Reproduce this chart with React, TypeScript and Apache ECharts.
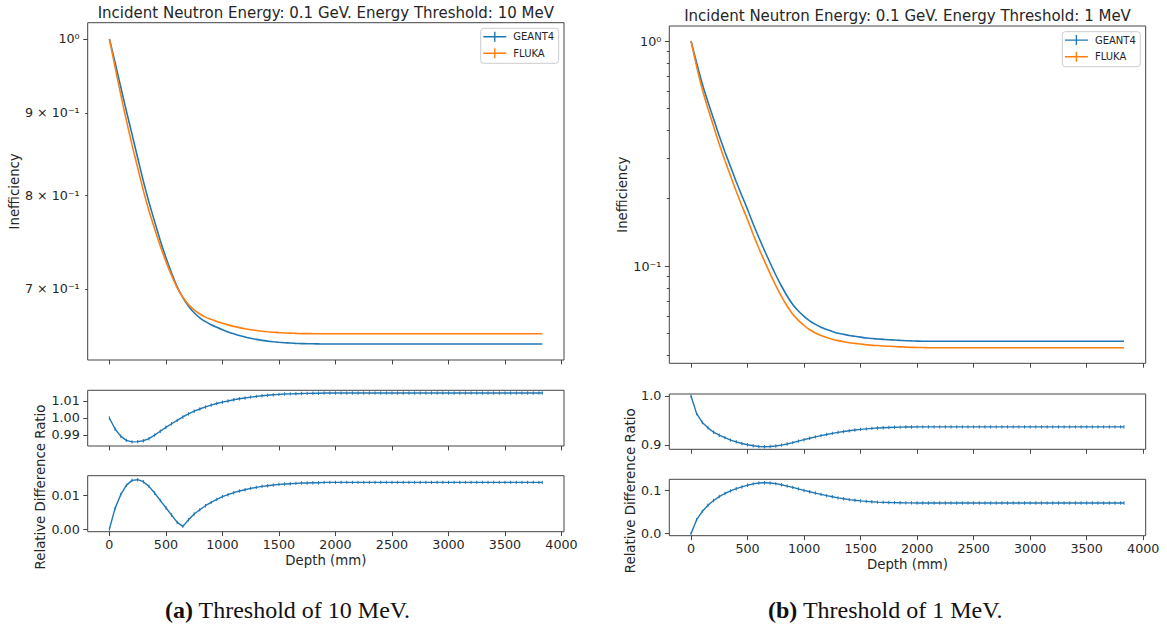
import React, { useEffect, useRef } from 'react';
import * as echarts from 'echarts';

// ---------- data ----------
const depth = [
  0, 50, 100, 150, 200, 250, 300, 350, 400, 450, 500, 550, 600, 650, 700, 750, 800, 850, 900, 950,
  1000, 1050, 1100, 1150, 1200, 1250, 1300, 1350, 1400, 1450, 1500, 1550, 1600, 1650, 1700, 1750, 1800, 1850, 1900, 1950,
  2000, 2050, 2100, 2150, 2200, 2250, 2300, 2350, 2400, 2450, 2500, 2550, 2600, 2650, 2700, 2750, 2800, 2850, 2900, 2950,
  3000, 3050, 3100, 3150, 3200, 3250, 3300, 3350, 3400, 3450, 3500, 3550, 3600, 3650, 3700, 3750, 3800, 3830,
];

// Threshold 10 MeV
const geant10 = [
  1.0, 0.967, 0.934, 0.9025, 0.873, 0.844, 0.8165, 0.7922, 0.7705, 0.75, 0.732, 0.716, 0.702, 0.6912, 0.6828, 0.6765, 0.6717, 0.668, 0.6651, 0.6626,
  0.6603, 0.6583, 0.6565, 0.6549, 0.6535, 0.6523, 0.6513, 0.6504, 0.6497, 0.6491, 0.6486, 0.6482, 0.6479, 0.6476, 0.6474, 0.6473, 0.6472, 0.6471, 0.647, 0.647,
  0.647, 0.647, 0.647, 0.647, 0.647, 0.647, 0.647, 0.647, 0.647, 0.647, 0.647, 0.647, 0.647, 0.647, 0.647, 0.647, 0.647, 0.647, 0.647, 0.647,
  0.647, 0.647, 0.647, 0.647, 0.647, 0.647, 0.647, 0.647, 0.647, 0.647, 0.647, 0.647, 0.647, 0.647, 0.647, 0.647, 0.647, 0.647,
];
const fluka10 = [
  1.0, 0.9607, 0.924, 0.8906, 0.8597, 0.8322, 0.8056, 0.7825, 0.7627, 0.7442, 0.728, 0.7136, 0.701, 0.6916, 0.6844, 0.6792, 0.6753, 0.6723, 0.6702, 0.6682,
  0.6664, 0.6649, 0.6635, 0.6623, 0.6612, 0.6603, 0.6596, 0.6589, 0.6584, 0.658, 0.6576, 0.6573, 0.6571, 0.6569, 0.6567, 0.6567, 0.6566, 0.6566, 0.6565, 0.6565,
  0.6565, 0.6565, 0.6565, 0.6565, 0.6565, 0.6565, 0.6565, 0.6565, 0.6565, 0.6565, 0.6565, 0.6565, 0.6565, 0.6565, 0.6565, 0.6565, 0.6565, 0.6565, 0.6565, 0.6565,
  0.6565, 0.6565, 0.6565, 0.6565, 0.6565, 0.6565, 0.6565, 0.6565, 0.6565, 0.6565, 0.6565, 0.6565, 0.6565, 0.6565, 0.6565, 0.6565, 0.6565, 0.6565,
];
const ratio10 = [
  1.0, 0.9935, 0.9893, 0.9868, 0.9859, 0.9861, 0.9866, 0.9878, 0.9899, 0.9922, 0.9945, 0.9966, 0.9986, 1.0006, 1.0024, 1.004, 1.0053, 1.0065, 1.0076, 1.0085,
  1.0093, 1.01, 1.0107, 1.0113, 1.0118, 1.0123, 1.0127, 1.0131, 1.0134, 1.0137, 1.0139, 1.0141, 1.0142, 1.0143, 1.0144, 1.0145, 1.0146, 1.0146, 1.0147, 1.0147,
  1.0147, 1.0147, 1.0147, 1.0147, 1.0147, 1.0147, 1.0147, 1.0147, 1.0147, 1.0147, 1.0147, 1.0147, 1.0147, 1.0147, 1.0147, 1.0147, 1.0147, 1.0147, 1.0147, 1.0147,
  1.0147, 1.0147, 1.0147, 1.0147, 1.0147, 1.0147, 1.0147, 1.0147, 1.0147, 1.0147, 1.0147, 1.0147, 1.0147, 1.0147, 1.0147, 1.0147, 1.0147, 1.0147,
];
const reldiff10 = [
  0.0, 0.0062, 0.0103, 0.0131, 0.0146, 0.0148, 0.0142, 0.0128, 0.0108, 0.0086, 0.0064, 0.0042, 0.002, 0.0008, 0.0028, 0.0045, 0.0058, 0.007, 0.008, 0.0089,
  0.0097, 0.0103, 0.0109, 0.0114, 0.0118, 0.0122, 0.0125, 0.0128, 0.013, 0.0132, 0.0134, 0.0135, 0.0136, 0.0137, 0.0138, 0.0138, 0.0139, 0.0139, 0.014, 0.014,
  0.014, 0.014, 0.014, 0.014, 0.014, 0.014, 0.014, 0.014, 0.014, 0.014, 0.014, 0.014, 0.014, 0.014, 0.014, 0.014, 0.014, 0.014, 0.014, 0.014,
  0.014, 0.014, 0.014, 0.014, 0.014, 0.014, 0.014, 0.014, 0.014, 0.014, 0.014, 0.014, 0.014, 0.014, 0.014, 0.014, 0.014, 0.014,
];

// Threshold 1 MeV
const geant1 = [
  1.0, 0.7986, 0.644, 0.5357, 0.4499, 0.3779, 0.3214, 0.2759, 0.2369, 0.2053, 0.1786, 0.1537, 0.1338, 0.1172, 0.1031, 0.0912, 0.0815, 0.0736, 0.0674, 0.0631,
  0.0597, 0.057, 0.055, 0.0534, 0.0522, 0.0512, 0.0503, 0.0497, 0.0491, 0.0487, 0.0483, 0.0479, 0.0476, 0.0474, 0.0472, 0.047, 0.0469, 0.0467, 0.04656, 0.04646,
  0.04637, 0.0463, 0.0463, 0.0463, 0.0463, 0.0463, 0.0463, 0.0463, 0.0463, 0.0463, 0.0463, 0.0463, 0.0463, 0.0463, 0.0463, 0.0463, 0.0463, 0.0463, 0.0463, 0.0463,
  0.0463, 0.0463, 0.0463, 0.0463, 0.0463, 0.0463, 0.0463, 0.0463, 0.0463, 0.0463, 0.0463, 0.0463, 0.0463, 0.0463, 0.0463, 0.0463, 0.0463, 0.0463,
];
const fluka1 = [
  1.0, 0.7699, 0.6092, 0.5009, 0.4166, 0.3477, 0.2941, 0.2511, 0.2148, 0.1854, 0.1608, 0.1381, 0.12, 0.1051, 0.0925, 0.0819, 0.0733, 0.0664, 0.061, 0.0573,
  0.0544, 0.0521, 0.0504, 0.0491, 0.0481, 0.0473, 0.0466, 0.0461, 0.0456, 0.0453, 0.045, 0.0447, 0.0444, 0.0443, 0.0441, 0.044, 0.0439, 0.0437, 0.0436, 0.0435,
  0.04345, 0.0434, 0.0433, 0.0433, 0.0433, 0.0433, 0.0433, 0.0433, 0.0433, 0.0433, 0.0433, 0.0433, 0.0433, 0.0433, 0.0433, 0.0433, 0.0433, 0.0433, 0.0433, 0.0433,
  0.0433, 0.0433, 0.0433, 0.0433, 0.0433, 0.0433, 0.0433, 0.0433, 0.0433, 0.0433, 0.0433, 0.0433, 0.0433, 0.0433, 0.0433, 0.0433, 0.0433, 0.0433,
];
const ratio1 = [
  1.0, 0.964, 0.946, 0.935, 0.926, 0.92, 0.915, 0.91, 0.9065, 0.903, 0.9005, 0.8985, 0.897, 0.8965, 0.8968, 0.898, 0.8998, 0.902, 0.9048, 0.9078,
  0.9108, 0.9138, 0.9165, 0.919, 0.9215, 0.9237, 0.9257, 0.9275, 0.929, 0.9305, 0.9318, 0.9329, 0.9338, 0.9346, 0.9352, 0.9357, 0.9361, 0.9364, 0.9366, 0.9368,
  0.937, 0.937, 0.937, 0.937, 0.937, 0.937, 0.937, 0.937, 0.937, 0.937, 0.937, 0.937, 0.937, 0.937, 0.937, 0.937, 0.937, 0.937, 0.937, 0.937,
  0.937, 0.937, 0.937, 0.937, 0.937, 0.937, 0.937, 0.937, 0.937, 0.937, 0.937, 0.937, 0.937, 0.937, 0.937, 0.937, 0.937, 0.937,
];
const reldiff1 = [
  0.0, 0.032, 0.051, 0.065, 0.076, 0.085, 0.092, 0.098, 0.103, 0.107, 0.111, 0.114, 0.116, 0.1165, 0.116, 0.1145, 0.112, 0.109, 0.106, 0.1025,
  0.099, 0.096, 0.093, 0.09, 0.087, 0.0845, 0.082, 0.08, 0.078, 0.0765, 0.075, 0.074, 0.073, 0.0723, 0.0717, 0.0713, 0.071, 0.0708, 0.0706, 0.0705,
  0.0704, 0.0703, 0.0703, 0.0703, 0.0703, 0.0703, 0.0703, 0.0703, 0.0703, 0.0703, 0.0703, 0.0703, 0.0703, 0.0703, 0.0703, 0.0703, 0.0703, 0.0703, 0.0703, 0.0703,
  0.0703, 0.0703, 0.0703, 0.0703, 0.0703, 0.0703, 0.0703, 0.0703, 0.0703, 0.0703, 0.0703, 0.0703, 0.0703, 0.0703, 0.0703, 0.0703, 0.0703, 0.0703,
];

// ---------- ticks / labels ----------
const depthTicks = [0, 500, 1000, 1500, 2000, 2500, 3000, 3500, 4000];
const effTicks10 = [1, 0.9, 0.8, 0.7];
const effLabels10 = ['10⁰', '9 × 10⁻¹', '8 × 10⁻¹', '7 × 10⁻¹'];
const effMinor10 = [0.9, 0.8, 0.7];
const effTicks1 = [1, 0.1];
const effLabels1 = ['10⁰', '10⁻¹'];
const effMinor1 = [0.9, 0.8, 0.7, 0.6, 0.5, 0.4, 0.3, 0.2, 0.09, 0.08, 0.07, 0.06, 0.05, 0.04];
const ratioTicks10 = [0.99, 1.0, 1.01];
const diffTicks10 = [0.0, 0.01];
const ratioTicks1 = [0.9, 1.0];
const diffTicks1 = [0.0, 0.1];

const titles = [
  'Incident Neutron Energy: 0.1 GeV. Energy Threshold: 10 MeV',
  'Incident Neutron Energy: 0.1 GeV. Energy Threshold: 1 MeV',
];
const captionTags = ['(a)', '(b)'];
const captions = [' Threshold of 10 MeV.', ' Threshold of 1 MeV.'];

const BLUE = '#1f77b4';
const ORANGE = '#ff7f0e';
const AX = '#444444';
const TXT = '#262626';
const FONT = 'DejaVu Sans';

const lg = (v: number) => Math.log10(v);

export default function App() {
  const ref = useRef<HTMLDivElement>(null);
  useEffect(() => {
    if (!ref.current) return;
    const chart = echarts.init(ref.current, null, { renderer: 'svg' });

    const grids = [
      { left: 87.7, top: 22.7, width: 476.3, height: 337.3 },
      { left: 87.7, top: 390.3, width: 476.3, height: 55.7 },
      { left: 87.7, top: 475.7, width: 476.3, height: 56 },
      { left: 669.3, top: 26, width: 476.4, height: 337.3 },
      { left: 669.3, top: 394, width: 476.4, height: 55.3 },
      { left: 669.3, top: 479.3, width: 476.4, height: 56.4 },
    ].map((g) => ({ ...g, show: true, borderColor: AX, borderWidth: 1, backgroundColor: 'transparent' }));

    const xAx = (gi: number, labels: boolean) => ({
      type: 'value',
      gridIndex: gi,
      position: 'bottom',
      min: -192,
      max: 4022,
      axisLine: { show: false, onZero: false },
      splitLine: { show: false },
      axisTick: { show: true, customValues: depthTicks, length: 4.4, lineStyle: { color: AX } },
      axisLabel: {
        show: labels,
        customValues: depthTicks,
        margin: 6,
        fontSize: 12.7,
        color: TXT,
        fontFamily: FONT,
        formatter: (v: number) => String(Math.round(v)),
      },
      name: labels ? 'Depth (mm)' : '',
      nameLocation: 'middle',
      nameGap: 22,
      nameTextStyle: { fontSize: 13.3, color: TXT, fontFamily: FONT },
    });

    const pickLabel = (vals: number[], labels: string[]) => (v: number) => {
      const r = Math.pow(10, v);
      let best = 0;
      vals.forEach((t, i) => {
        if (Math.abs(t - r) < Math.abs(vals[best] - r)) best = i;
      });
      return labels[best];
    };

    const effAxis = (gi: number, min: number, max: number, ticks: number[], labels: string[], nameGap: number) => ({
      type: 'value',
      gridIndex: gi,
      min,
      max,
      position: 'left',
      axisLine: { show: false, onZero: false },
      splitLine: { show: false },
      axisTick: { show: true, customValues: [0, -1].filter((v) => v >= min && v <= max), length: 4.4, lineStyle: { color: AX } },
      axisLabel: {
        customValues: ticks.map(lg),
        margin: 8,
        fontSize: 12.7,
        color: TXT,
        fontFamily: FONT,
        formatter: pickLabel(ticks, labels),
      },
      name: 'Inefficiency',
      nameLocation: 'middle',
      nameGap,
      nameTextStyle: { fontSize: 13.3, color: TXT, fontFamily: FONT },
    });

    const minorAxis = (gi: number, min: number, max: number, minors: number[]) => ({
      type: 'value',
      gridIndex: gi,
      min,
      max,
      position: 'left',
      axisLine: { show: false, onZero: false },
      splitLine: { show: false },
      axisLabel: { show: false },
      axisTick: { show: true, customValues: minors.map(lg), length: 2.5, lineStyle: { color: AX } },
    });

    const linAxis = (gi: number, min: number, max: number, ticks: number[], digits: number) => ({
      type: 'value',
      gridIndex: gi,
      min,
      max,
      position: 'left',
      axisLine: { show: false, onZero: false },
      splitLine: { show: false },
      axisTick: { show: true, customValues: ticks, length: 4.4, lineStyle: { color: AX } },
      axisLabel: {
        customValues: ticks,
        margin: 8,
        fontSize: 12.7,
        color: TXT,
        fontFamily: FONT,
        formatter: (v: number) => v.toFixed(digits),
      },
    });

    const top10Min = lg(0.6324);
    const top10Max = lg(1.0235);
    const top1Min = -1.4324;
    const top1Max = 0.0667;

    const xAxis = [xAx(0, false), xAx(1, false), xAx(2, true), xAx(3, false), xAx(4, false), xAx(5, true)];
    const yAxis = [
      effAxis(0, top10Min, top10Max, effTicks10, effLabels10, 62),
      linAxis(1, 0.9835, 1.0163, ratioTicks10, 2),
      linAxis(2, -0.0008, 0.016, diffTicks10, 2),
      effAxis(3, top1Min, top1Max, effTicks1, effLabels1, 38),
      linAxis(4, 0.8912, 1.004, ratioTicks1, 1),
      linAxis(5, -0.0046, 0.1245, diffTicks1, 1),
      minorAxis(0, top10Min, top10Max, effMinor10),
      minorAxis(3, top1Min, top1Max, effMinor1),
    ];

    const toPts = (ys: number[], f?: (v: number) => number) => depth.map((d, i) => [d, f ? f(ys[i]) : ys[i]]);

    const effLine = (name: string, ys: number[], color: string, xi: number) => ({
      type: 'line',
      name,
      xAxisIndex: xi,
      yAxisIndex: xi,
      data: toPts(ys, lg),
      showSymbol: false,
      smooth: 0.2,
      lineStyle: { color, width: 1.6 },
      itemStyle: { color },
      silent: true,
    });
    const ratioLine = (name: string, ys: number[], xi: number) => ({
      type: 'line',
      name,
      xAxisIndex: xi,
      yAxisIndex: xi,
      data: toPts(ys),
      showSymbol: true,
      symbol: 'rect',
      symbolSize: [1, 3.4],
      lineStyle: { color: BLUE, width: 1.4 },
      itemStyle: { color: BLUE },
      silent: true,
    });

    const series = [
      effLine('GEANT4', geant10, BLUE, 0),
      effLine('FLUKA', fluka10, ORANGE, 0),
      ratioLine('ratio10', ratio10, 1),
      ratioLine('diff10', reldiff10, 2),
      effLine('GEANT4', geant1, BLUE, 3),
      effLine('FLUKA', fluka1, ORANGE, 3),
      ratioLine('ratio1', ratio1, 4),
      ratioLine('diff1', reldiff1, 5),
    ];

    const plusIcon = 'path://M0,4.3 L23,4.3 L23,5.7 L0,5.7 Z M10.8,0 L12.2,0 L12.2,10 L10.8,10 Z';
    const legendAt = (left: number, top: number) => ({
      data: ['GEANT4', 'FLUKA'],
      orient: 'vertical',
      left,
      top,
      icon: plusIcon,
      itemWidth: 23,
      itemHeight: 10,
      itemGap: 4.6,
      padding: [2.4, 4.5, 4, 2.6],
      backgroundColor: 'rgba(255,255,255,0.8)',
      borderColor: '#cccccc',
      borderWidth: 1,
      borderRadius: 3,
      selectedMode: false,
      textStyle: { fontSize: 10, color: TXT, fontFamily: FONT, lineHeight: 12, padding: [0, 0, 0, 2] },
    });

    const textEl = (x: number, y: number, text: string, size: number, rotation = 0) => ({
      type: 'text',
      x,
      y,
      rotation,
      silent: true,
      style: { text, fontSize: size, fontFamily: FONT, fill: TXT, align: 'center', verticalAlign: 'middle' },
    });
    const captionEl = (x: number, i: number) => ({
      type: 'text',
      x,
      y: 610,
      silent: true,
      style: {
        text: `{b|${captionTags[i]}}${captions[i]}`,
        fontSize: 24,
        fontFamily: 'Liberation Serif',
        fill: '#111111',
        align: 'left',
        verticalAlign: 'middle',
        rich: {
          b: { fontSize: 24, fontFamily: 'Liberation Serif', fontWeight: 'bold', fill: '#111111' },
        },
      },
    });

    chart.setOption({
      animation: false,
      backgroundColor: '#ffffff',
      textStyle: { fontFamily: FONT },
      grid: grids,
      xAxis,
      yAxis,
      series,
      legend: [legendAt(480.7, 28.3), legendAt(1062.3, 31.7)],
      graphic: [
        textEl(325.8, 13.3, titles[0], 15),
        textEl(907.5, 15.7, titles[1], 15),
        textEl(40, 487, 'Relative Difference Ratio', 13.3, Math.PI / 2),
        textEl(630, 490.8, 'Relative Difference Ratio', 13.3, Math.PI / 2),
        captionEl(165, 0),
        captionEl(768, 1),
      ],
    });

    return () => chart.dispose();
  }, []);

  return <div ref={ref} style={{ position: 'absolute', left: 0, top: 0, width: 1167, height: 627 }} />;
}
